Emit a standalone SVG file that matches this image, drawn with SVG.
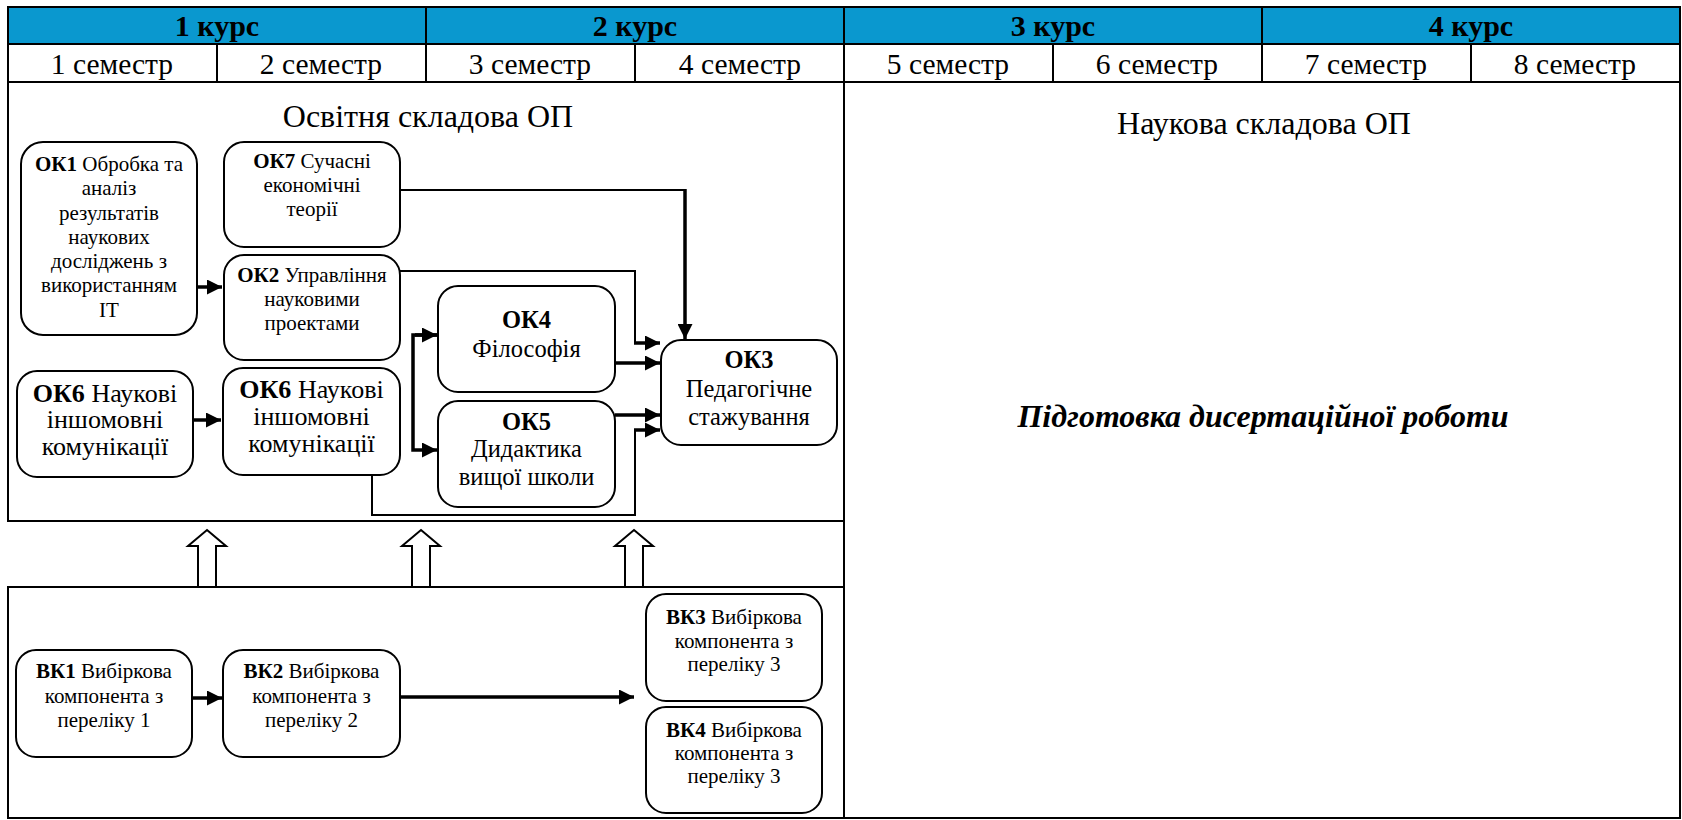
<svg xmlns="http://www.w3.org/2000/svg" width="1682" height="820" viewBox="0 0 1682 820">
<style>
text{font-family:"Liberation Serif","Times New Roman",serif;fill:#000;text-anchor:middle}
.hd{font-size:30px;font-weight:bold}
.sem{font-size:29.5px}
.ttl{font-size:32px}
.n21{font-size:21px}
.n24{font-size:24.5px}
.n26{font-size:26px}
.b{font-weight:bold}
.frame{fill:none;stroke:#000;stroke-width:2}
.node{fill:#fff;stroke:#000;stroke-width:2}
.thin{fill:none;stroke:#000;stroke-width:2}
.thick{fill:none;stroke:#000;stroke-width:3.5}
.hollow{fill:#fff;stroke:#000;stroke-width:2}
</style>
<defs>
<marker id="ah" markerUnits="userSpaceOnUse" markerWidth="16" markerHeight="15" refX="15" refY="7.5" orient="auto">
<path d="M0,0 L15,7.5 L0,15 z" fill="#000"/>
</marker>
</defs>
<rect x="0" y="0" width="1682" height="820" fill="#fff"/>
<g id="table">
<rect x="8" y="7" width="1672" height="37" fill="#0A98CF"/>
<rect class="frame" x="8" y="7" width="1672" height="75"/>
<line class="frame" x1="8" y1="44" x2="1680" y2="44"/>
<line class="frame" x1="426" y1="7" x2="426" y2="82"/>
<line class="frame" x1="844" y1="7" x2="844" y2="82"/>
<line class="frame" x1="1262" y1="7" x2="1262" y2="82"/>
<line class="frame" x1="217" y1="44" x2="217" y2="82"/>
<line class="frame" x1="635" y1="44" x2="635" y2="82"/>
<line class="frame" x1="1053" y1="44" x2="1053" y2="82"/>
<line class="frame" x1="1471" y1="44" x2="1471" y2="82"/>
<text class="hd" x="217" y="36">1 курс</text>
<text class="hd" x="635" y="36">2 курс</text>
<text class="hd" x="1053" y="36">3 курс</text>
<text class="hd" x="1471" y="36">4 курс</text>
<text class="sem" x="112" y="74">1 семестр</text>
<text class="sem" x="321" y="74">2 семестр</text>
<text class="sem" x="530" y="74">3 семестр</text>
<text class="sem" x="740" y="74">4 семестр</text>
<text class="sem" x="948" y="74">5 семестр</text>
<text class="sem" x="1157" y="74">6 семестр</text>
<text class="sem" x="1366" y="74">7 семестр</text>
<text class="sem" x="1575" y="74">8 семестр</text>
</g>
<g id="educational-part">
<rect class="frame" x="8" y="82" width="836" height="439"/>
<text class="ttl" x="428" y="127">Освітня складова ОП</text>
</g>
<g id="elective-part">
<rect class="frame" x="8" y="587" width="836" height="231"/>
</g>
<g id="scientific-part">
<rect class="frame" x="844" y="82" width="836" height="736"/>
<text class="ttl" x="1264" y="134">Наукова складова ОП</text>
<text class="ttl" x="1263" y="427" font-weight="bold" font-style="italic">Підготовка дисертаційної роботи</text>
</g>
<g id="hollow-arrows">
<polygon class="hollow" points="207,530 226,546 216,546 216,587 198,587 198,546 188,546"/>
<polygon class="hollow" points="421,530 440,546 430,546 430,587 412,587 412,546 402,546"/>
<polygon class="hollow" points="634,530 653,546 643,546 643,587 625,587 625,546 615,546"/>
</g>
<g id="connectors">
<path class="thick" d="M197,287 H222" marker-end="url(#ah)"/>
<path class="thick" d="M193,420 H221" marker-end="url(#ah)"/>
<path class="thin" d="M400,190 H685"/>
<path class="thick" d="M685,189 V339" marker-end="url(#ah)"/>
<path class="thin" d="M400,271 H635 V343"/>
<path class="thick" d="M634,343 H660" marker-end="url(#ah)"/>
<path class="thick" d="M615,363 H660" marker-end="url(#ah)"/>
<path class="thick" d="M615,415 H660" marker-end="url(#ah)"/>
<path class="thin" d="M372,475 V515 H635 V430"/>
<path class="thick" d="M634,430 H660" marker-end="url(#ah)"/>
<path class="thick" d="M437,335 H413 V450 H437" marker-end="url(#ah)"/>
<path class="thick" d="M415,335 H437" marker-end="url(#ah)"/>
<path class="thick" d="M192,698 H222" marker-end="url(#ah)"/>
<path class="thick" d="M400,697 H634" marker-end="url(#ah)"/>
</g>
<g id="OK1">
<rect class="node" x="21" y="142" width="176" height="193" rx="22"/>
<text class="n21"><tspan x="109" y="171"><tspan class="b">ОК1</tspan> Обробка та</tspan><tspan x="109" y="195">аналіз</tspan><tspan x="109" y="220">результатів</tspan><tspan x="109" y="244">наукових</tspan><tspan x="109" y="268">досліджень з</tspan><tspan x="109" y="292">використанням</tspan><tspan x="109" y="317">IT</tspan></text>
</g>
<g id="OK7">
<rect class="node" x="224" y="142" width="176" height="105" rx="20"/>
<text class="n21"><tspan x="312" y="168"><tspan class="b">ОК7</tspan> Сучасні</tspan><tspan x="312" y="192">економічні</tspan><tspan x="312" y="216">теорії</tspan></text>
</g>
<g id="OK2">
<rect class="node" x="224" y="255" width="176" height="105" rx="20"/>
<text class="n21"><tspan x="312" y="282"><tspan class="b">ОК2</tspan> Управління</tspan><tspan x="312" y="306">науковими</tspan><tspan x="312" y="330">проектами</tspan></text>
</g>
<g id="OK6a">
<rect class="node" x="17" y="371" width="176" height="106" rx="20"/>
<text class="n26"><tspan x="105" y="402"><tspan class="b">ОК6</tspan> Наукові</tspan><tspan x="105" y="428">іншомовні</tspan><tspan x="105" y="455">комунікації</tspan></text>
</g>
<g id="OK6b">
<rect class="node" x="223" y="368" width="177" height="107" rx="20"/>
<text class="n26"><tspan x="311.5" y="398"><tspan class="b">ОК6</tspan> Наукові</tspan><tspan x="311.5" y="425">іншомовні</tspan><tspan x="311.5" y="452">комунікації</tspan></text>
</g>
<g id="OK4">
<rect class="node" x="438" y="286" width="177" height="106" rx="20"/>
<text class="n24"><tspan class="b" x="526.5" y="328">ОК4</tspan><tspan x="526.5" y="357">Філософія</tspan></text>
</g>
<g id="OK5">
<rect class="node" x="438" y="401" width="177" height="106" rx="20"/>
<text class="n24"><tspan class="b" x="526.5" y="430">ОК5</tspan><tspan x="526.5" y="457">Дидактика</tspan><tspan x="526.5" y="485">вищої школи</tspan></text>
</g>
<g id="OK3">
<rect class="node" x="661" y="340" width="176" height="105" rx="20"/>
<text class="n24"><tspan class="b" x="749" y="368">ОК3</tspan><tspan x="749" y="397">Педагогічне</tspan><tspan x="749" y="425">стажування</tspan></text>
</g>
<g id="BK1">
<rect class="node" x="16" y="650" width="176" height="107" rx="20"/>
<text class="n21"><tspan x="104" y="678"><tspan class="b">ВК1</tspan> Вибіркова</tspan><tspan x="104" y="703">компонента з</tspan><tspan x="104" y="727">переліку 1</tspan></text>
</g>
<g id="BK2">
<rect class="node" x="223" y="650" width="177" height="107" rx="20"/>
<text class="n21"><tspan x="311.5" y="678"><tspan class="b">ВК2</tspan> Вибіркова</tspan><tspan x="311.5" y="703">компонента з</tspan><tspan x="311.5" y="727">переліку 2</tspan></text>
</g>
<g id="BK3">
<rect class="node" x="646" y="594" width="176" height="107" rx="20"/>
<text class="n21"><tspan x="734" y="624"><tspan class="b">ВК3</tspan> Вибіркова</tspan><tspan x="734" y="648">компонента з</tspan><tspan x="734" y="671">переліку 3</tspan></text>
</g>
<g id="BK4">
<rect class="node" x="646" y="707" width="176" height="106" rx="20"/>
<text class="n21"><tspan x="734" y="737"><tspan class="b">ВК4</tspan> Вибіркова</tspan><tspan x="734" y="760">компонента з</tspan><tspan x="734" y="783">переліку 3</tspan></text>
</g>
</svg>
